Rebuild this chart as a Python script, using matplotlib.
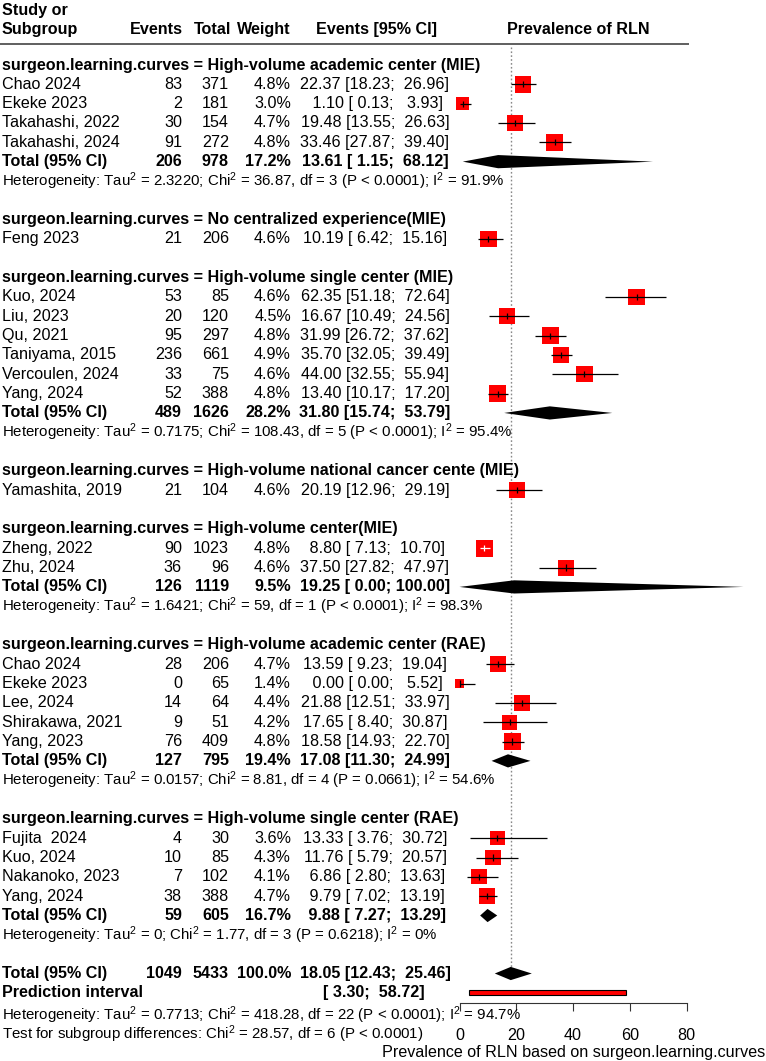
import matplotlib
matplotlib.use("Agg")
import matplotlib.pyplot as plt
from matplotlib.transforms import blended_transform_factory

plt.rcParams['font.family'] = ['Liberation Sans', 'DejaVu Sans']
plt.rcParams['mathtext.fontset'] = 'custom'
plt.rcParams['mathtext.rm'] = 'Liberation Sans'
plt.rcParams['mathtext.it'] = 'Liberation Sans'
plt.rcParams['mathtext.bf'] = 'Liberation Sans:bold'

# ---- data ----
group_names = [
    "High-volume academic center (MIE)",
    "No centralized experience(MIE)",
    "High-volume single center (MIE)",
    "High-volume national cancer cente (MIE)",
    "High-volume center(MIE)",
    "High-volume academic center (RAE)",
    "High-volume single center (RAE)",
]
study_group = [0, 0, 0, 0, 1, 2, 2, 2, 2, 2, 2, 3, 4, 4, 5, 5, 5, 5, 5, 6, 6, 6, 6]
study_labels = ["Chao 2024", "Ekeke 2023", "Takahashi, 2022", "Takahashi, 2024",
                "Feng 2023",
                "Kuo, 2024", "Liu, 2023", "Qu, 2021", "Taniyama, 2015", "Vercoulen, 2024", "Yang, 2024",
                "Yamashita, 2019",
                "Zheng, 2022", "Zhu, 2024",
                "Chao 2024", "Ekeke 2023", "Lee, 2024", "Shirakawa, 2021", "Yang, 2023",
                "Fujita  2024", "Kuo, 2024", "Nakanoko, 2023", "Yang, 2024"]
events = [83, 2, 30, 91, 21, 53, 20, 95, 236, 33, 52, 21, 90, 36, 28, 0, 14, 9, 76, 4, 10, 7, 38]
totals = [371, 181, 154, 272, 206, 85, 120, 297, 661, 75, 388, 104, 1023, 96, 206, 65, 64, 51, 409,
          30, 85, 102, 388]
weights = [4.8, 3.0, 4.7, 4.8, 4.6, 4.6, 4.5, 4.8, 4.9, 4.6, 4.8, 4.6, 4.8, 4.6, 4.7, 1.4, 4.4, 4.2, 4.8,
           3.6, 4.3, 4.1, 4.7]
est = [22.37, 1.10, 19.48, 33.46, 10.19, 62.35, 16.67, 31.99, 35.70, 44.00, 13.40, 20.19, 8.80, 37.50,
       13.59, 0.00, 21.88, 17.65, 18.58, 13.33, 11.76, 6.86, 9.79]
lower = [18.23, 0.13, 13.55, 27.87, 6.42, 51.18, 10.49, 26.72, 32.05, 32.55, 10.17, 12.96, 7.13, 27.82,
         9.23, 0.00, 12.51, 8.40, 14.93, 3.76, 5.79, 2.80, 7.02]
upper = [26.96, 3.93, 26.63, 39.40, 15.16, 72.64, 24.56, 37.62, 39.49, 55.94, 17.20, 29.19, 10.70, 47.97,
         19.04, 5.52, 33.97, 30.87, 22.70, 30.72, 20.57, 13.63, 13.19]

# subgroup pooled results (None = single study, no pooled row)
sub_events = [206, None, 489, None, 126, 127, 59]
sub_totals = [978, None, 1626, None, 1119, 795, 605]
sub_weights = [17.2, None, 28.2, None, 9.5, 19.4, 16.7]
sub_est = [13.61, None, 31.80, None, 19.25, 17.08, 9.88]
sub_lower = [1.15, None, 15.74, None, 0.00, 11.30, 7.27]
sub_upper = [68.12, None, 53.79, None, 100.00, 24.99, 13.29]
sub_het = [
    "Heterogeneity: Tau$^2$ = 2.3220; Chi$^2$ = 36.87, df = 3 (P < 0.0001); I$^2$ = 91.9%",
    None,
    "Heterogeneity: Tau$^2$ = 0.7175; Chi$^2$ = 108.43, df = 5 (P < 0.0001); I$^2$ = 95.4%",
    None,
    "Heterogeneity: Tau$^2$ = 1.6421; Chi$^2$ = 59, df = 1 (P < 0.0001); I$^2$ = 98.3%",
    "Heterogeneity: Tau$^2$ = 0.0157; Chi$^2$ = 8.81, df = 4 (P = 0.0661); I$^2$ = 54.6%",
    "Heterogeneity: Tau$^2$ = 0; Chi$^2$ = 1.77, df = 3 (P = 0.6218); I$^2$ = 0%",
]

overall = dict(events=1049, total=5433, weight=100.0, est=18.05, lower=12.43, upper=25.46)
pred_lower, pred_upper = 3.30, 58.72
overall_het = "Heterogeneity: Tau$^2$ = 0.7713; Chi$^2$ = 418.28, df = 22 (P < 0.0001); I$^2$ = 94.7%"
subgroup_test = "Test for subgroup differences: Chi$^2$ = 28.57, df = 6 (P < 0.0001)"
x_ticks = [0, 20, 40, 60, 80]

# ---- layout (pixels of the 766 x 1061 canvas) ----
W, H = 766, 1061
X0_PX, X80_PX = 459.5, 686.7
ROW0_PX, ROW_PX = 65, 19.33
px_per_unit = (X80_PX - X0_PX) / 80.0

fig = plt.figure(figsize=(W / 100, H / 100), dpi=100)
ax = fig.add_axes([0, 0, 1, 1])
ax.set_xlim(-X0_PX / px_per_unit, (W - X0_PX) / px_per_unit)
ax.set_ylim((H - ROW0_PX) / ROW_PX, -ROW0_PX / ROW_PX)

tr = blended_transform_factory(ax.transAxes, ax.transData)
FS = 11.6
FS_HET = 10.85


def col(px):
    return px / W


def txt(px, row, s, ha='left', bold=False, size=FS):
    ax.text(col(px), row, s, transform=tr, ha=ha, va='center', fontsize=size,
            fontweight='bold' if bold else 'normal', clip_on=False)


def ci_str(e, lo, hi):
    return f"{e:5.2f} [{lo:5.2f}; {hi:6.2f}]"


def draw_study(row, i):
    w = weights[i]
    side = 16.5 * (w / 4.8) ** 0.5
    ax.scatter([est[i]], [row], s=(side * 0.72) ** 2, marker='s', color='#ff0000',
               edgecolor='none', zorder=3, clip_on=False)
    half = side / 2 / px_per_unit
    inside = lower[i] >= est[i] - half and upper[i] <= est[i] + half
    lc = 'white' if inside else 'black'
    ax.hlines(row, lower[i], upper[i], color=lc, lw=0.9, zorder=4)
    ax.vlines(est[i], row - 0.16, row + 0.16, color=lc, lw=0.9, zorder=4)


DIA_H = 6.6 / ROW_PX


def draw_diamond(row, e, lo, hi):
    ax.fill([lo, e, hi, e], [row, row - DIA_H, row, row + DIA_H], color='black', zorder=3,
            clip_on=False, lw=0)


# header
head_row = -1.83
txt(2, head_row - 1, "Study or", bold=True)
txt(2, head_row, "Subgroup", bold=True)
txt(182.5, head_row, "Events", ha='right', bold=True)
txt(231, head_row, "Total", ha='right', bold=True)
txt(291, head_row, "Weight", ha='right', bold=True)
txt(376, head_row, "Events [95% CI]", ha='center', bold=True)
txt(578, head_row, "Prevalence of RLN", ha='center', bold=True)
ax.hlines((44.3 - ROW0_PX) / ROW_PX, -X0_PX / px_per_unit, (689 - X0_PX) / px_per_unit,
          color='#444444', lw=1.2, clip_on=False)

row = 0
for g, name in enumerate(group_names):
    txt(2, row, "surgeon.learning.curves = " + name, bold=True)
    row += 1
    for i in [k for k, sg in enumerate(study_group) if sg == g]:
        txt(2, row, study_labels[i])
        txt(182, row, str(events[i]), ha='right')
        txt(229, row, str(totals[i]), ha='right')
        txt(291, row, f"{weights[i]:.1f}%", ha='right')
        txt(375, row, ci_str(est[i], lower[i], upper[i]), ha='center')
        draw_study(row, i)
        row += 1
    if sub_est[g] is not None:
        txt(2, row, "Total (95% CI)", bold=True)
        txt(182, row, str(sub_events[g]), ha='right', bold=True)
        txt(229, row, str(sub_totals[g]), ha='right', bold=True)
        txt(291, row, f"{sub_weights[g]:.1f}%", ha='right', bold=True)
        txt(375, row, ci_str(sub_est[g], sub_lower[g], sub_upper[g]), ha='center', bold=True)
        draw_diamond(row, sub_est[g], sub_lower[g], sub_upper[g])
        row += 1
        txt(2, row, sub_het[g], size=FS_HET)
        row += 1
    row += 1

# overall
txt(2, row, "Total (95% CI)", bold=True)
txt(182, row, str(overall['events']), ha='right', bold=True)
txt(229, row, str(overall['total']), ha='right', bold=True)
txt(291, row, f"{overall['weight']:.1f}%", ha='right', bold=True)
txt(375, row, ci_str(overall['est'], overall['lower'], overall['upper']), ha='center', bold=True)
draw_diamond(row, overall['est'], overall['lower'], overall['upper'])
total_row = row

row += 1
txt(2, row, "Prediction interval", bold=True)
txt(425, row, f"[{pred_lower:5.2f}; {pred_upper:6.2f}]", ha='right', bold=True)
ph = 2.4 / ROW_PX
ax.fill([pred_lower, pred_upper, pred_upper, pred_lower], [row - ph, row - ph, row + ph, row + ph],
        facecolor='#ff0000', edgecolor='black', lw=0.8, zorder=3)
row += 1.15
txt(2, row, overall_het, size=FS_HET)
row += 1.0
txt(2, row, subgroup_test, size=FS_HET)

# reference line at overall estimate
ax.vlines(overall['est'], -0.95, total_row - DIA_H, color='#888888', lw=1.0,
          linestyles=(0, (1.2, 1.6)), zorder=1)

# x axis
axis_row = (1003.3 - ROW0_PX) / ROW_PX
for s in ['top', 'left', 'right']:
    ax.spines[s].set_visible(False)
ax.spines['bottom'].set_position(('data', axis_row))
ax.spines['bottom'].set_bounds(x_ticks[0], x_ticks[-1])
ax.spines['bottom'].set_linewidth(0.8)
ax.spines['bottom'].set_color('#333333')
ax.set_xticks(x_ticks)
ax.set_xticklabels([str(t) for t in x_ticks], fontsize=FS)
ax.tick_params(axis='x', direction='out', length=6, width=0.8, pad=12, color='#333333')
ax.set_yticks([])
ax.text(col(574), (1052 - ROW0_PX) / ROW_PX, "Prevalence of RLN based on surgeon.learning.curves",
        transform=tr, ha='center', va='center', fontsize=FS, clip_on=False)

fig.savefig("out.png", dpi=100)
plt.close(fig)
